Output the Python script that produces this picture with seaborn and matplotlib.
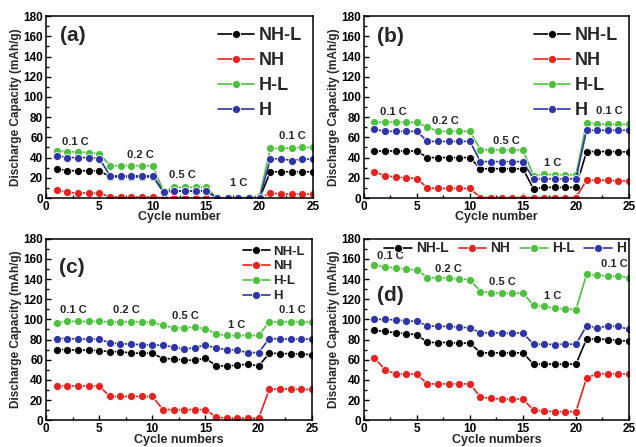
import numpy as np
import pandas as pd
import matplotlib
matplotlib.use("Agg")
import matplotlib.pyplot as plt
import seaborn as sns
from matplotlib.ticker import MultipleLocator

sns.set_theme(style="ticks")
plt.rcParams['font.family'] = ['Liberation Sans', 'DejaVu Sans']
plt.rcParams['font.weight'] = 'bold'
plt.rcParams['axes.labelweight'] = 'bold'

cycles = list(range(1, 26))
series_names = ["NH-L", "NH", "H-L", "H"]
colors = ["#000000", "#e8221e", "#4cc23c", "#2e35a6"]

# Panel (a)
a_nhl = [29, 27, 27, 27, 27, 21, 21, 21, 21, 21, 7, 7, 7, 7, 7, 0, 0, 0, 0, 0, 26, 26, 26, 26, 26]
a_nh = [8, 5.5, 5, 5, 5, 1, 1, 1, 1, 1, 0, 0, 0, 0, 0, 0, 0, 0, 0, 0, 5, 4, 4, 4, 4]
a_hl = [47, 46, 45.5, 45, 44, 32, 32, 32, 32, 32, 6.5, 10.5, 10.5, 10.5, 10.5, 0, 0, 0, 1, 2, 49, 49, 49.5, 50, 50]
a_h = [42, 40, 40, 40, 39, 22, 22, 22, 22, 22, 5.5, 7, 7, 7, 7, 0, 0, 0, 0, 0, 38.7, 39, 37, 38.5, 38.5]

# Panel (b)
b_nhl = [46.5, 46.5, 46.5, 46.5, 46.5, 40, 40, 40, 40, 40, 29, 29, 29, 29, 29, 9, 10.5, 10.5, 10.5, 10.5, 46, 46, 46, 46, 45.5]
b_nh = [26, 22, 20.7, 20, 19.3, 10, 9.5, 9.5, 9.5, 9.5, 0.5, 0.5, 0.5, 0.5, 0.5, 0.5, 0.5, 0.5, 0.5, 0.5, 17.7, 17.5, 17.5, 17, 17]
b_hl = [75, 75, 75, 75, 75, 70, 66, 66, 66, 66, 48, 47.5, 47.5, 47.5, 47.5, 22, 23.6, 23, 23, 23, 74, 73.5, 73, 73, 73]
b_h = [68, 66, 66, 66, 66, 56, 56, 56, 56, 56, 36, 36, 36, 36, 36, 19, 19, 19, 19, 19, 67, 67, 67, 67, 67]

# Panel (c)
c_nhl = [70, 70, 69.5, 69.5, 69, 68, 68, 66.5, 66.5, 66.5, 61, 61, 59.5, 59.5, 61.5, 54, 53.7, 54.6, 55.6, 53.7, 66.5, 66, 66, 65.5, 65]
c_nh = [34, 34, 34, 34, 34, 23.5, 23.5, 23.5, 23.5, 23.5, 10.5, 10.5, 10.5, 10.5, 10.5, 3, 2, 2, 2, 2, 30.5, 31, 31, 30.5, 30.5]
c_hl = [96.5, 98, 98, 98, 98, 97.5, 97.5, 97.5, 97.5, 97, 94, 91.6, 91.6, 92.3, 90.6, 85.7, 84, 84, 84, 84, 97.5, 97.5, 97.5, 97.5, 97.5]
c_h = [81, 81, 80.5, 80.5, 80.5, 76.6, 76, 75.3, 75, 74.6, 74.3, 72.6, 70.4, 72, 74.6, 71.3, 70, 69.4, 67, 67, 81, 80.5, 80.5, 80.5, 80.5]

# Panel (d)
d_nhl = [89, 88, 86.7, 85.7, 84.8, 77.2, 77, 77, 76.5, 76.5, 66.8, 66.8, 66.8, 66.8, 66.8, 55.6, 55.6, 55.6, 55.6, 55.6, 80.5, 80.5, 80, 79, 78.5]
d_nh = [62, 50, 46, 46, 45.5, 36, 36, 36, 36, 36, 23, 21.6, 21, 21, 21, 10, 9, 8.5, 8.5, 8.5, 42, 46, 46, 46, 45.5]
d_hl = [154, 152, 151, 150, 149, 141.5, 141, 141, 140, 139.5, 127.6, 126.4, 126, 126, 126, 114, 113, 111, 110.5, 109.7, 144.7, 144, 143, 142.7, 141.5]
d_h = [100, 100, 99.5, 98.5, 98, 93.6, 93, 93, 92.3, 91.6, 86.7, 86.7, 86.3, 86.5, 86.5, 75.3, 75.3, 75, 75.5, 75.3, 93.6, 91.6, 93.3, 93, 90]

rate_labels = ["0.1 C", "0.2 C", "0.5 C", "1 C", "0.1 C"]
panel_tags = ["(a)", "(b)", "(c)", "(d)"]
xlabels = ["Cycle number", "Cycle number", "Cycle numbers", "Cycle numbers"]

panels = [
    [a_nhl, a_nh, a_hl, a_h],
    [b_nhl, b_nh, b_hl, b_h],
    [c_nhl, c_nh, c_hl, c_h],
    [d_nhl, d_nh, d_hl, d_h],
]

# annotation positions (data coords) for rate labels
rate_pos = [
    [(2.7, 55), (8.8, 43), (12.8, 23), (18.0, 15), (23.1, 61)],
    [(2.8, 85.5), (7.7, 76), (13.4, 56), (17.8, 35), (23.1, 86)],
    [(2.6, 109.6), (7.6, 109.6), (13.1, 103), (17.9, 94.6), (23.2, 109.6)],
    [(2.5, 163), (8.0, 150), (13.1, 137), (17.8, 123), (23.6, 155)],
]
tag_pos = [(2.55, 161), (2.5, 160), (2.4, 151), (2.5, 124)]

fig = plt.figure(figsize=(6.36, 4.47), dpi=100)
rects = [
    [0.0723, 0.557, 0.420, 0.407],
    [0.572, 0.557, 0.417, 0.407],
    [0.0723, 0.060, 0.418, 0.406],
    [0.572, 0.060, 0.417, 0.406],
]

for i, (rect, data) in enumerate(zip(rects, panels)):
    ax = fig.add_axes(rect)
    frames = []
    for name, vals in zip(series_names, data):
        frames.append(pd.DataFrame({"cycle": cycles, "cap": vals, "sample": name}))
    df = pd.concat(frames, ignore_index=True)
    sns.lineplot(data=df, x="cycle", y="cap", hue="sample", hue_order=series_names,
                 palette=colors, marker="o", markersize=5.8, linewidth=1.2,
                 markeredgewidth=0.6, ax=ax, legend=True)
    ax.set_xlim(0, 25)
    ax.set_ylim(0, 180)
    ax.xaxis.set_major_locator(MultipleLocator(5))
    ax.xaxis.set_minor_locator(MultipleLocator(2.5))
    ax.yaxis.set_major_locator(MultipleLocator(20))
    ax.yaxis.set_minor_locator(MultipleLocator(10))
    ax.tick_params(which="both", direction="in", top=False, right=False,
                   labelsize=8.5, width=1, colors="black", pad=2)
    ax.tick_params(which="major", length=3.5)
    ax.tick_params(which="minor", length=2)
    for lab in ax.get_xticklabels() + ax.get_yticklabels():
        lab.set_fontweight("bold")
    for sp in ax.spines.values():
        sp.set_linewidth(1.1)
        sp.set_color("black")
    ax.set_xlabel(xlabels[i], fontsize=9, fontweight="bold", labelpad=-1)
    ax.set_ylabel("Discharge Capacity (mAh/g)", fontsize=8.5, fontweight="bold", labelpad=1)
    for lbl, (x, y) in zip(rate_labels, rate_pos[i]):
        ax.text(x, y, lbl, ha="center", va="center", fontsize=8, fontweight="bold")
    ax.text(tag_pos[i][0], tag_pos[i][1], panel_tags[i], ha="center", va="center",
            fontsize=15, fontweight="bold")
    handles, labels = ax.get_legend_handles_labels()
    ax.get_legend().remove()
    if i < 2:
        ax.legend(handles, labels, loc="upper right", frameon=False,
                  handlelength=2.0, handletextpad=0.3, labelspacing=0.45,
                  borderaxespad=0.2, prop={"weight": "bold", "size": 13})
    elif i == 2:
        ax.legend(handles, labels, loc="upper right", frameon=False,
                  handlelength=2.0, handletextpad=0.3, labelspacing=0.2,
                  borderaxespad=0.1, prop={"weight": "bold", "size": 9.5})
    else:
        ax.legend(handles, labels, loc="upper right", frameon=False, ncol=4,
                  handlelength=2.0, handletextpad=0.3, columnspacing=0.7,
                  borderaxespad=0.0, borderpad=0.2, prop={"weight": "bold", "size": 10})

fig.savefig("out.png", dpi=100)
